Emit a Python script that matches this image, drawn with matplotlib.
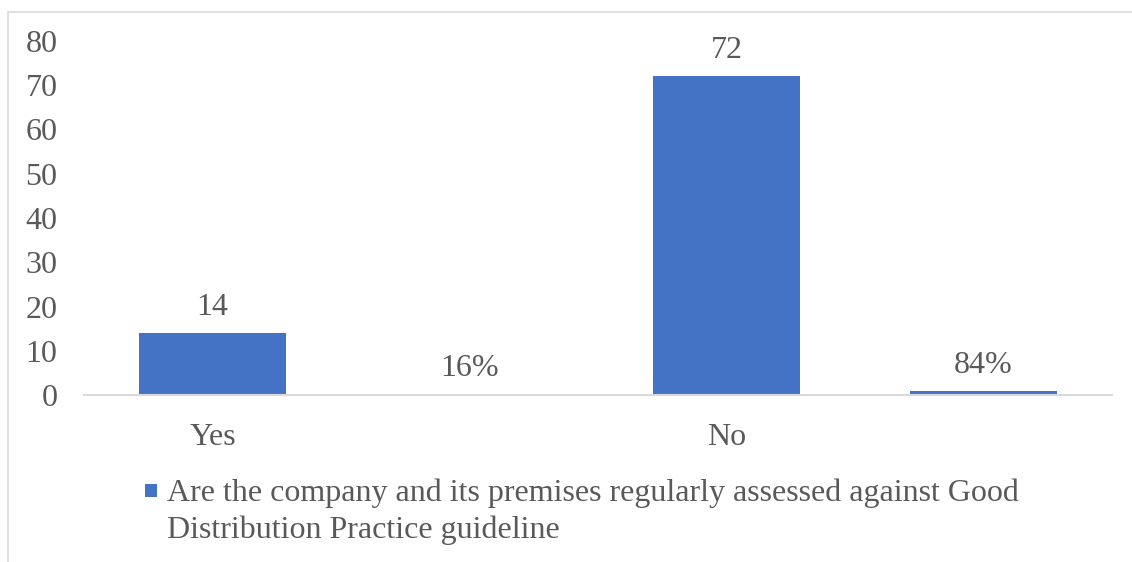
import matplotlib
matplotlib.use("Agg")
import matplotlib.pyplot as plt
from matplotlib.patches import Rectangle

categories = ["Yes", "", "No", ""]
values = [14, 0.16, 72, 0.84]
value_labels = ["14", "16%", "72", "84%"]
y_ticks = [0, 10, 20, 30, 40, 50, 60, 70, 80]
legend_label = "Are the company and its premises regularly assessed against Good\nDistribution Practice guideline"

W, H = 1132, 562
DPI = 100
BAR = "#4472C4"
TXT = "#595959"
FONT = "Liberation Serif"
FS = 23

plt.rcParams["font.family"] = [FONT, "DejaVu Serif"]

fig = plt.figure(figsize=(W / DPI, H / DPI), dpi=DPI)
fig.patch.set_facecolor("white")

# chart border
fig.patches.append(Rectangle((8 / W, -0.05), 1.2, (H - 12) / H + 0.05,
                             transform=fig.transFigure, fill=False,
                             edgecolor="#d9d9d9", linewidth=1.2))

ax = fig.add_axes([84 / W, 167 / H, (1112 - 84) / W, 354 / H])
x = list(range(len(categories)))
ax.bar(x, values, width=0.57, color=BAR, zorder=2)
ax.set_xlim(-0.5, len(categories) - 0.5)
ax.set_ylim(0, 80)
ax.set_yticks(y_ticks)
ax.set_yticklabels([str(v) for v in y_ticks], fontsize=FS, color=TXT)
ax.set_xticks(x)
ax.set_xticklabels(categories, fontsize=FS, color=TXT)
ax.tick_params(axis="both", length=0)
ax.tick_params(axis="y", pad=19)
ax.tick_params(axis="x", pad=20)
for s in ["top", "right", "left"]:
    ax.spines[s].set_visible(False)
ax.spines["bottom"].set_color("#d9d9d9")
ax.spines["bottom"].set_linewidth(1.5)
ax.patch.set_alpha(0)

for xi, v, lab in zip(x, values, value_labels):
    ax.annotate(lab, (xi, v), xytext=(0, 8), textcoords="offset points",
                ha="center", va="bottom", fontsize=FS, color=TXT)

# legend
fig.patches.append(Rectangle((145 / W, 1 - 497 / H), 12 / W, 13 / H,
                             transform=fig.transFigure, facecolor=BAR,
                             edgecolor="none"))
lines = legend_label.split("\n")
fig.text(167 / W, 1 - 493 / H, lines[0], fontsize=FS, color=TXT,
         ha="left", va="center")
fig.text(167 / W, 1 - 530 / H, lines[1], fontsize=FS, color=TXT,
         ha="left", va="center")

fig.savefig("out.png", dpi=DPI)
